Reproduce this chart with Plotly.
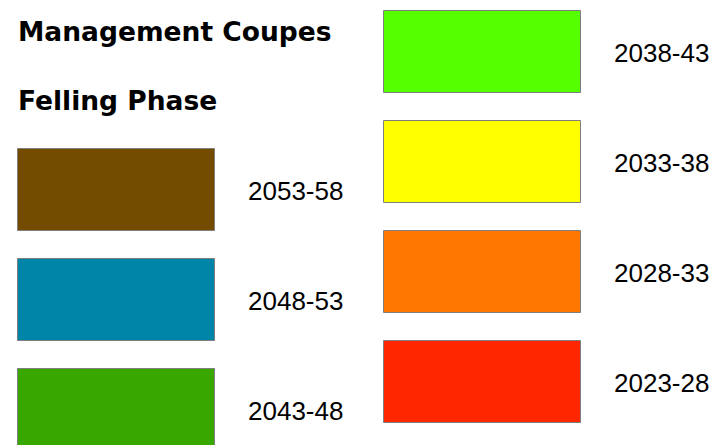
import plotly.graph_objects as go

# Legend content
title_main = "Management Coupes"
title_sub = "Felling Phase"
left_labels = ["2053-58", "2048-53", "2043-48"]
left_colors = ["#734C00", "#0084A8", "#38A800"]
right_labels = ["2038-43", "2033-38", "2028-33", "2023-28"]
right_colors = ["#55FF00", "#FFFF00", "#FF7700", "#FF2600"]

W, H = 723, 445
box_w, box_h = 197, 82
row_step = 110
label_gap = 33

def column(n, x0, y0):
    cx = [x0 + box_w / 2] * n
    tops = [y0 + i * row_step for i in range(n)]
    return cx, tops

lcx, ltops = column(len(left_labels), 18, 149)
rcx, rtops = column(len(right_labels), 384, 11)

fig = go.Figure()
for cx, tops, labels, colors in [(lcx, ltops, left_labels, left_colors),
                                 (rcx, rtops, right_labels, right_colors)]:
    fig.add_trace(go.Bar(
        x=cx, y=[box_h] * len(cx), base=tops, width=box_w,
        marker=dict(color=colors, line=dict(color="#7f7f7f", width=1)),
        hoverinfo="skip", showlegend=False,
    ))
    fig.add_trace(go.Scatter(
        x=[c + box_w / 2 + label_gap for c in cx],
        y=[t + box_h / 2 + 3.5 for t in tops],
        mode="text", text=labels, textposition="middle right",
        textfont=dict(family="Liberation Sans, Arial", size=26, color="#000000"),
        hoverinfo="skip", showlegend=False,
    ))

fig.add_trace(go.Scatter(
    x=[18, 18], y=[34, 103], mode="text",
    text=["<b>%s</b>" % title_main, "<b>%s</b>" % title_sub],
    textposition="middle right",
    textfont=dict(family="DejaVu Sans", size=26.5, color="#000000"),
    hoverinfo="skip", showlegend=False,
))

fig.update_layout(
    width=W, height=H, margin=dict(l=0, r=0, t=0, b=0),
    paper_bgcolor="white", plot_bgcolor="white",
    xaxis=dict(range=[0, W], visible=False, fixedrange=True),
    yaxis=dict(range=[H, 0], visible=False, fixedrange=True),
    barmode="overlay", bargap=0,
)
fig.write_html("out.html", config={"displayModeBar": False},
               post_script="document.body.style.margin='0';document.body.style.padding='0';document.body.style.overflow='hidden';")
